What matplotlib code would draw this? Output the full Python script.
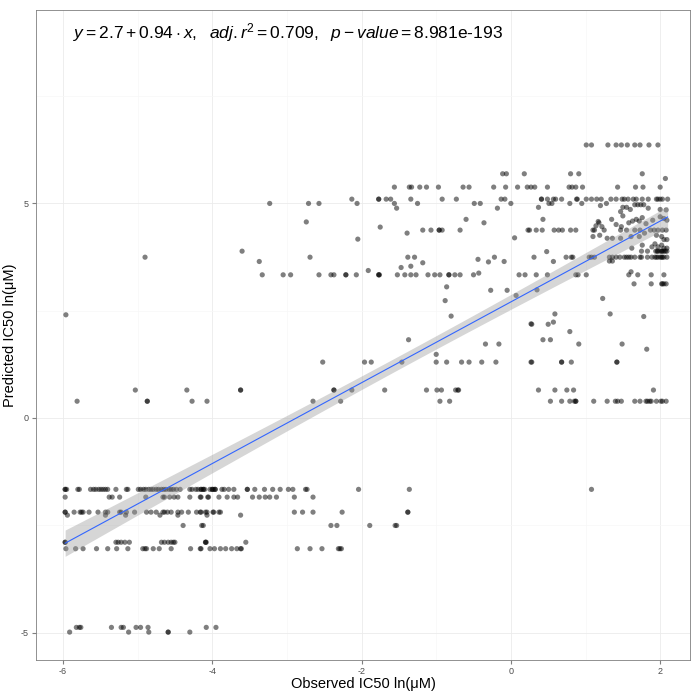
import numpy as np
import matplotlib
matplotlib.use('Agg')
from matplotlib import pyplot as plt

plt.rcParams['font.family'] = ['Liberation Sans', 'DejaVu Sans']
plt.rcParams['mathtext.fontset'] = 'custom'
plt.rcParams['mathtext.rm'] = 'Liberation Sans'
plt.rcParams['mathtext.it'] = 'Liberation Sans:italic'
plt.rcParams['axes.unicode_minus'] = False

# fit reported in the figure
intercept = 2.7
slope = 0.94

# observed values grouped by the (discrete) predicted level they sit on
row_m498 = [-5.91, -5.12, -4.85, -4.59, -4.59, -4.30]
row_m487 = [-5.82, -5.78, -5.76, -5.35, -5.22, -5.19, -5.02, -4.96, -4.86, -4.08, -3.95]
row_m304 = [-5.96, -5.83, -5.73, -5.55, -5.40, -5.28, -5.13, -4.93, -4.90, -4.88, -4.79, -4.71,
            -4.55, -4.29, -4.16, -4.15, -4.03, -3.97, -3.89, -3.82, -3.74, -3.67, -3.62, -3.61,
            -2.86, -2.69, -2.53, -2.31, -2.29, -2.27]
row_m289 = [-5.97, -5.97, -5.29, -5.26, -5.22, -5.17, -5.11, -4.68, -4.64, -4.59, -4.55, -4.52,
            -4.50, -4.08, -4.09, -4.09, -3.55]
row_m250 = [-4.39, -4.14, -4.12, -2.41, -2.33, -1.89, -1.55, -1.53]
row_m226 = [-5.94, -5.43, -5.16, -4.70, -4.46, -4.07, -3.62]
row_m219 = [-5.97, -5.97, -5.85, -5.77, -5.75, -5.73, -5.65, -5.53, -5.43, -5.40, -5.24, -5.22,
            -5.15, -5.04, -4.88, -4.82, -4.75, -4.66, -4.64, -4.60, -4.55, -4.46, -4.41, -4.32,
            -4.21, -4.16, -4.07, -3.99, -4.15, -4.09, -3.98, -3.91, -3.89, -2.90, -2.79, -2.65,
            -2.26, -1.38, -1.38]
row_m184 = [-5.97, -5.38, -5.34, -5.24, -4.89, -4.66, -4.64, -4.57, -4.51, -4.46, -4.30, -4.16,
            -4.05, -4.15, -4.06, -3.91, -3.80, -3.71, -3.66, -3.46, -3.37, -3.29, -3.23, -3.14,
            -2.90, -2.65]
row_m166 = [-5.97, -5.97, -5.95, -5.80, -5.78, -5.63, -5.59, -5.56, -5.52, -5.49, -5.46, -5.43,
            -5.40, -5.29, -5.15, -5.13, -4.99, -4.96, -4.92, -4.89, -4.85, -4.82, -4.79, -4.75,
            -4.72, -4.68, -4.65, -4.62, -4.58, -4.55, -4.52, -4.48, -4.43, -4.30, -4.27, -4.22,
            -4.19, -4.15, -4.12, -4.10, -4.03, -4.00, -3.96, -4.15, -4.12, -4.00, -3.98, -3.96,
            -3.87, -3.84, -3.78, -3.71, -3.53, -3.53, -3.43, -3.30, -3.19, -3.09, -2.98, -2.92,
            -2.75, -2.73, -2.04, -1.36, 1.08]
row_039 = [-5.81, -4.87, -4.87, -4.27, -4.07, -2.65, -2.28, -0.95, -0.82, 0.53, 0.68, 0.79,
           0.85, 0.87, 0.87, 1.11, 1.29, 1.40, 1.43, 1.48, 1.66, 1.73, 1.81, 1.83, 1.86, 1.88,
           1.95, 2.01, 2.03, 2.08]
row_065 = [-5.03, -4.34, -3.62, -3.62, -2.37, -2.37, -2.13, -1.69, -1.13, -0.99, -0.93, -0.74,
           -0.71, -0.70, 0.37, 0.59, 0.75, 0.84, 1.91]
row_130 = [-2.52, -1.96, -1.87, -1.46, -1.00, -0.86, -0.66, -0.56, -0.39, -0.20, 0.27, 0.28,
           0.68, 0.68, 0.81, 1.42, 1.42]
row_312 = [1.65, 1.88, 2.02, 2.03, 2.05, 2.08]
row_333 = [-3.33, -3.05, -2.95, -2.57, -2.41, -2.37, -2.21, -2.21, -2.07, -1.77, -1.77, -1.76,
           -1.52, -1.42, -1.34, -1.27, -1.11, -1.02, -0.95, -0.83, -0.83, -0.75, -0.68, -0.50,
           0.11, 0.19, 0.34, 0.49, 0.87, 0.90, 1.01, 1.58, 1.70, 1.88, 2.05]
row_374 = [-4.90, -1.38, -1.29, -0.22, 0.31, 0.74, 0.81, 0.83, 1.05, 1.08, 1.12, 1.32, 1.36,
           1.41, 1.46, 1.52, 1.55, 1.58, 1.61, 1.66, 1.73, 1.75, 1.83, 1.89, 1.93, 1.95, 1.97,
           2.00, 2.02, 2.03, 2.05, 2.09]
row_388 = [-3.60, 1.75, 1.83, 1.94, 1.96, 1.97, 2.00, 2.02, 2.03, 2.05, 2.07, 2.09]
row_437 = [-1.18, -1.07, -0.96, -0.96, -0.92, -0.68, 0.23, 0.25, 0.34, 0.42, 0.58, 0.64, 0.69,
           0.80, 0.87, 1.10, 1.12, 1.25, 1.47, 1.55, 1.66, 1.73, 1.87, 1.92, 1.97, 2.03, 2.08]
row_499 = [-3.23, -2.71, -2.57, -2.06, -1.56, -1.25, -0.49, -0.41, -0.00, 0.51, 0.79]
row_509 = [-2.13, -1.77, -1.77, -1.67, -1.61, -1.34, -0.92, -0.73, -0.13, -0.08, 0.41, 0.41,
           0.49, 0.57, 0.60, 0.68, 0.88, 0.89, 1.01, 1.08, 1.15, 1.21, 1.34, 1.41, 1.49, 1.52,
           1.57, 1.64, 1.68, 1.76, 1.84, 1.95, 1.97, 2.00, 2.03, 2.10]
row_537 = [-1.56, -1.36, -1.33, -1.22, -1.13, -0.97, -0.64, -0.56, -0.23, -0.07, 0.09, 0.22,
           0.27, 0.32, 0.49, 0.78, 0.82, 0.87, 0.96, 1.43, 1.67, 1.77, 2.00]
row_568 = [-0.11, -0.06, 0.18, 0.80, 0.91, 1.76]
row_635 = [1.01, 1.08, 1.30, 1.41, 1.48, 1.56, 1.66, 1.73, 1.85, 1.97]

rows = [(-4.98, row_m498), (-4.87, row_m487), (-3.04, row_m304), (-2.89, row_m289),
        (-2.50, row_m250), (-2.26, row_m226), (-2.19, row_m219), (-1.84, row_m184),
        (-1.66, row_m166), (0.39, row_039), (0.65, row_065), (1.30, row_130),
        (3.12, row_312), (3.33, row_333), (3.74, row_374), (3.88, row_388),
        (4.37, row_437), (4.99, row_499), (5.09, row_509), (5.37, row_537),
        (5.68, row_568), (6.35, row_635)]

# points off the common levels
other_obs = [-5.96, -3.37, -2.74, -1.75, -2.05, -2.69, -1.91, -0.60, -0.36, -1.39, 0.05,
             -1.47, -1.34, -1.18, -0.44, -0.30, -0.09, -0.43, -0.86, -0.27, -0.05, 0.07,
             -0.88, -0.80, -1.37, -1.00, -0.34, -0.16, 0.27, 1.23, 1.33, 1.78, 0.28, 0.50,
             0.57, 0.59, 0.79, 0.43, 0.53, 0.91, 1.49, 1.82, -1.53, -0.18, 2.07, 0.48, 0.57,
             0.35, 1.61, 1.17, 1.22, 0.43,
             0.37, 0.55, 0.95, 1.20, 1.28, 1.47, 1.50, 1.55, 1.60, 1.66, 1.70, 1.74, 1.78,
             1.84, 2.00, 2.08,
             1.18, 1.14, 1.35, 1.41, 1.48, 1.50, 1.58, 1.63, 1.68, 1.72, 1.76, 1.81, 1.90,
             2.00, 2.05, 2.09,
             1.10, 1.19, 1.29, 1.36, 1.47, 1.61, 1.72, 1.79, 1.95, 2.02, 2.05, 2.09,
             1.62, 1.76, 1.89, 1.93, 1.97, 2.02, 2.05, 2.09, 1.32, 1.36]
other_pred = [2.40, 3.64, 4.56, 4.44, 4.16, 3.74, 3.43, 4.62, 4.54, 4.30, 4.19,
              3.50, 3.53, 3.61, 3.69, 3.63, 3.64, 3.37, 3.05, 2.97, 2.97, 2.85,
              2.73, 2.37, 1.82, 1.48, 1.72, 1.72, 2.19, 2.78, 2.42, 2.36, 2.18, 2.18,
              2.23, 2.42, 2.01, 1.82, 1.82, 1.72, 1.72, 1.60, 4.88, 4.88, 5.57, 3.87, 3.64,
              2.98, 3.40, 4.57, 4.45, 4.62,
              4.90, 4.99, 4.99, 4.94, 4.99, 4.80, 4.90, 4.90, 4.85, 4.96, 4.96, 4.96, 4.96,
              4.88, 4.85, 4.84,
              4.54, 4.47, 4.62, 4.50, 4.45, 4.70, 4.54, 4.58, 4.62, 4.58, 4.66, 4.52, 4.60,
              4.68, 4.64, 4.60,
              4.22, 4.25, 4.18, 4.18, 4.18, 4.22, 4.22, 4.30, 4.25, 4.22, 4.15, 4.15,
              3.95, 4.02, 3.98, 4.05, 3.98, 4.02, 3.95, 3.95, 3.65, 3.65]

obs = np.concatenate([np.array(xs, float) for _, xs in rows] + [np.array(other_obs)])
pred = np.concatenate([np.full(len(xs), lvl) for lvl, xs in rows] + [np.array(other_pred)])

# line with 95% confidence band
xfit = np.linspace(obs.min(), obs.max(), 200)
yfit = intercept + slope * xfit
n = len(obs)
resid = pred - (intercept + slope * obs)
s = np.sqrt(np.sum(resid ** 2) / (n - 2))
sxx = np.sum((obs - obs.mean()) ** 2)
se = s * np.sqrt(1.0 / n + (xfit - obs.mean()) ** 2 / sxx)

fig = plt.figure(figsize=(6.97, 6.97), dpi=100)
ax = fig.add_axes([0.0517, 0.053, 0.9383, 0.9327])

ax.set_xticks([-5, -3, -1, 1], minor=True)
ax.set_yticks([-2.5, 2.5, 7.5], minor=True)
ax.grid(True, which='major', color='#ebebeb', lw=0.6)
ax.grid(True, which='minor', color='#f7f7f7', lw=0.5)
ax.set_axisbelow(True)

ax.scatter(obs, pred, s=14, color='black', alpha=0.5, edgecolors='none', zorder=2)
ax.fill_between(xfit, yfit - 1.96 * se, yfit + 1.96 * se, color='#999999', alpha=0.4,
                lw=0, zorder=3)
ax.plot(xfit, yfit, color='#3366FF', lw=0.8, zorder=4)

ax.set_xlim(-6.36, 2.40)
ax.set_ylim(-5.63, 9.49)
ax.set_xticks([-6, -4, -2, 0, 2])
ax.set_yticks([-5, 0, 5])
ax.tick_params(which='major', length=3, color='#7f7f7f', labelsize=6.5,
               labelcolor='#4d4d4d', pad=2)
ax.tick_params(which='minor', length=0)
for sp in ax.spines.values():
    sp.set_color('#7f7f7f')
    sp.set_linewidth(0.6)

ax.set_xlabel('Observed IC50 ln(μM)', fontsize=10.5, labelpad=1)
ax.set_ylabel('Predicted IC50 ln(μM)', fontsize=10.5, labelpad=3)

ax.text(0.057, 0.966,
        r'$y = 2.7 + 0.94 \cdot x,\ \ adj.r^2 = 0.709,\ \ p - value = \mathrm{8.981e}\text{-}\mathrm{193}$',
        transform=ax.transAxes, fontsize=12.5, va='center', ha='left')

fig.savefig('out.png', dpi=100)
